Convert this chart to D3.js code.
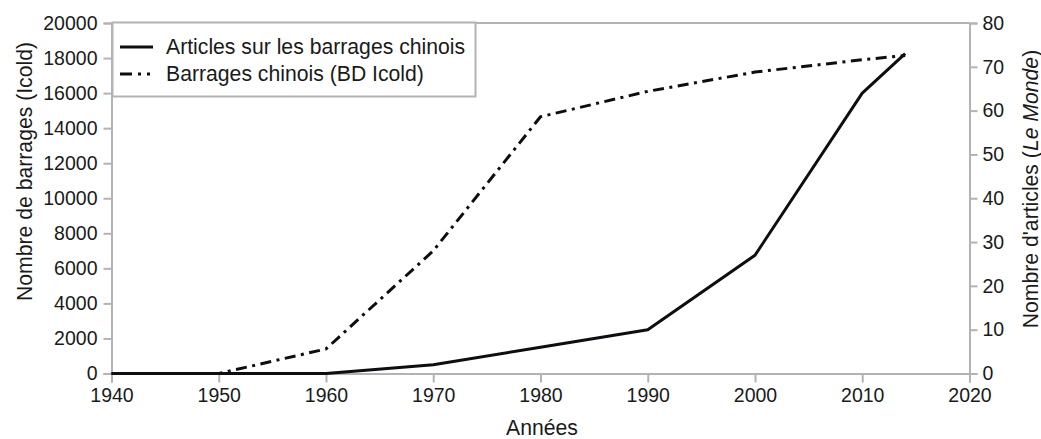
<!DOCTYPE html>
<html>
<head>
<meta charset="utf-8">
<script src="https://cdn.jsdelivr.net/npm/d3@7"></script>
<style>
  html, body { margin: 0; padding: 0; background: #fff; }
  svg { display: block; font-family: "Liberation Sans", Arial, sans-serif; }
</style>
</head>
<body>
<svg id="chart" width="1041" height="439"></svg>
<script>
// Years of observation
const years = [1940, 1950, 1960, 1970, 1980, 1990, 2000, 2010, 2014];
// Articles in Le Monde about Chinese dams (right axis)
const articles = [0, 0, 0, 2, 6, 10, 27, 64, 73];
// Chinese dams recorded in the ICOLD database (left axis)
const dams = [0, 0, 1400, 7000, 14650, 16100, 17200, 17900, 18150];

const xTicks = [1940, 1950, 1960, 1970, 1980, 1990, 2000, 2010, 2020];
const leftTicks = [0, 2000, 4000, 6000, 8000, 10000, 12000, 14000, 16000, 18000, 20000];
const rightTicks = [0, 10, 20, 30, 40, 50, 60, 70, 80];

const seriesNames = ["Articles sur les barrages chinois", "Barrages chinois (BD Icold)"];

const svg = d3.select("#chart");
const plot = { left: 111.5, right: 969.5, top: 23, bottom: 373.5 };
const axisColor = "#b3b3b3";
const textColor = "#1a1a1a";
const lineColor = "#0d0d12";
const dashDot = "11,5.5,3,5.5";
const titleSize = "21.2px";

const x = d3.scaleLinear().domain([1940, 2020]).range([plot.left, plot.right]);
const yL = d3.scaleLinear().domain([0, 20000]).range([plot.bottom, plot.top]);
const yR = d3.scaleLinear().domain([0, 80]).range([plot.bottom, plot.top]);

// top frame line
svg.append("line")
  .attr("x1", plot.left).attr("x2", plot.right)
  .attr("y1", plot.top).attr("y2", plot.top)
  .attr("stroke", axisColor).attr("stroke-width", 2);

function styleAxis(g) {
  g.select(".domain").attr("stroke", axisColor).attr("stroke-width", 2);
  g.selectAll(".tick line").attr("stroke", axisColor).attr("stroke-width", 2);
  g.selectAll(".tick text")
    .attr("fill", textColor)
    .style("font-size", "19.5px")
    .style("font-family", "'Liberation Sans', Arial, sans-serif");
}

// bottom axis
svg.append("g")
  .attr("transform", `translate(0,${plot.bottom})`)
  .call(d3.axisBottom(x).tickValues(xTicks).tickFormat(d3.format("d")).tickSizeOuter(0).tickSize(9).tickPadding(6))
  .call(styleAxis);

// left axis
svg.append("g")
  .attr("transform", `translate(${plot.left},0)`)
  .call(d3.axisLeft(yL).tickValues(leftTicks).tickFormat(d3.format("d")).tickSizeOuter(0).tickSize(8).tickPadding(6))
  .call(styleAxis);

// right axis
svg.append("g")
  .attr("transform", `translate(${plot.right},0)`)
  .call(d3.axisRight(yR).tickValues(rightTicks).tickFormat(d3.format("d")).tickSizeOuter(0).tickSize(8).tickPadding(5))
  .call(styleAxis);

// series lines
const damLine = d3.line().x((d, i) => x(years[i])).y(d => yL(d));
const artLine = d3.line().x((d, i) => x(years[i])).y(d => yR(d));

svg.append("path")
  .datum(dams)
  .attr("d", damLine)
  .attr("fill", "none")
  .attr("stroke", lineColor)
  .attr("stroke-width", 3)
  .attr("stroke-dasharray", dashDot)
  .attr("stroke-linejoin", "round");

svg.append("path")
  .datum(articles)
  .attr("d", artLine)
  .attr("fill", "none")
  .attr("stroke", lineColor)
  .attr("stroke-width", 3)
  .attr("stroke-linejoin", "round");

// axis titles
svg.append("text")
  .attr("x", 542)
  .attr("y", 435)
  .attr("text-anchor", "middle")
  .attr("fill", textColor)
  .style("font-size", titleSize)
  .text("Années");

svg.append("text")
  .attr("transform", "translate(31.5,171.5) rotate(-90)")
  .attr("text-anchor", "middle")
  .attr("fill", textColor)
  .style("font-size", titleSize)
  .text("Nombre de barrages (Icold)");

const rt = svg.append("text")
  .attr("transform", "translate(1037.5,189) rotate(-90)")
  .attr("text-anchor", "middle")
  .attr("fill", textColor)
  .style("font-size", titleSize);
rt.append("tspan").text("Nombre d'articles (");
rt.append("tspan").style("font-style", "italic").text("Le Monde");
rt.append("tspan").text(")");

// legend
const lg = svg.append("g");
lg.append("rect")
  .attr("x", 112.5).attr("y", 22.5)
  .attr("width", 363).attr("height", 74)
  .attr("fill", "#fff")
  .attr("stroke", axisColor).attr("stroke-width", 2);

const rows = [47, 74];
lg.append("line")
  .attr("x1", 120).attr("x2", 153)
  .attr("y1", rows[0]).attr("y2", rows[0])
  .attr("stroke", lineColor).attr("stroke-width", 3);
lg.append("line")
  .attr("x1", 120).attr("x2", 153)
  .attr("y1", rows[1]).attr("y2", rows[1])
  .attr("stroke", lineColor).attr("stroke-width", 3)
  .attr("stroke-dasharray", "12,6,3,6,3,6");

seriesNames.forEach((name, i) => {
  lg.append("text")
    .attr("x", 166)
    .attr("y", rows[i])
    .attr("dy", "0.35em")
    .attr("fill", textColor)
    .style("font-size", titleSize)
    .text(name);
});
</script>
</body>
</html>
